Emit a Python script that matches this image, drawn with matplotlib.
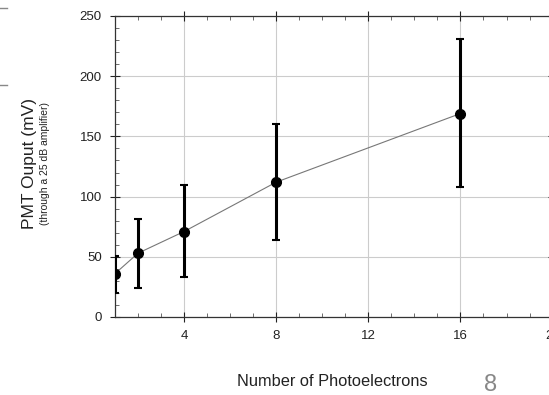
import numpy as np
import matplotlib
matplotlib.use('Agg')
import matplotlib.pyplot as plt
from matplotlib.ticker import MultipleLocator

# photoelectrons vs PMT output (mV)
n_pe = [1, 2, 4, 8, 16]
pmt_mv = [36, 53, 71, 112, 169]
err_lo = [20, 24, 33, 64, 108]
err_hi = [51, 81, 110, 160, 231]

x_ticks = [4, 8, 12, 16, 20]
y_ticks = [0, 50, 100, 150, 200, 250]

yerr = np.array([np.array(pmt_mv) - np.array(err_lo),
                 np.array(err_hi) - np.array(pmt_mv)])

plt.rcParams['font.family'] = ['Liberation Sans', 'DejaVu Sans']

fig = plt.figure(figsize=(5.49, 3.95), dpi=100)
ax = fig.add_axes([0.2095, 0.1975, 0.797, 0.762])

ax.plot(n_pe, pmt_mv, '-', color='#777777', lw=0.8, zorder=2)
ax.errorbar(n_pe, pmt_mv, yerr=yerr, fmt='o', color='black', ms=7,
            elinewidth=2.2, capsize=3, capthick=1.5, zorder=3)

ax.set_xlim(1, 20)
ax.set_ylim(0, 250)
ax.set_xticks(x_ticks)
ax.set_yticks(y_ticks)
ax.xaxis.set_minor_locator(MultipleLocator(1))
ax.yaxis.set_minor_locator(MultipleLocator(10))
ax.grid(True, which='major', color='#cccccc', lw=0.8)
ax.set_axisbelow(True)

ax.tick_params(which='major', direction='inout', length=7, width=0.8,
               top=True, right=True, labelsize=9.5, colors='#222222', pad=6)
ax.tick_params(which='minor', direction='in', length=3, width=0.6,
               top=True, right=True, colors='#555555')
for s in ax.spines.values():
    s.set_linewidth(0.9)
    s.set_color('#333333')

fig.text(0.053, 0.587, 'PMT Ouput (mV)', rotation=90, ha='center', va='center',
         fontsize=12.5, color='#222222')
fig.text(0.082, 0.587, '(through a 25 dB amplifier)', rotation=90,
         ha='center', va='center', fontsize=7.5, color='#222222')
fig.text(0.605, 0.033, 'Number of Photoelectrons', ha='center', va='center',
         fontsize=11.8, color='#222222')
fig.text(0.893, 0.025, '8', ha='center', va='center', fontsize=17,
         color='#888888')

# slide artefacts at the left edge
fig.add_artist(plt.Line2D([0, 0.012], [0.98, 0.98], color='#888888', lw=1))
fig.add_artist(plt.Line2D([0, 0.012], [0.785, 0.785], color='#888888', lw=1))

fig.savefig('out.png', dpi=100)
